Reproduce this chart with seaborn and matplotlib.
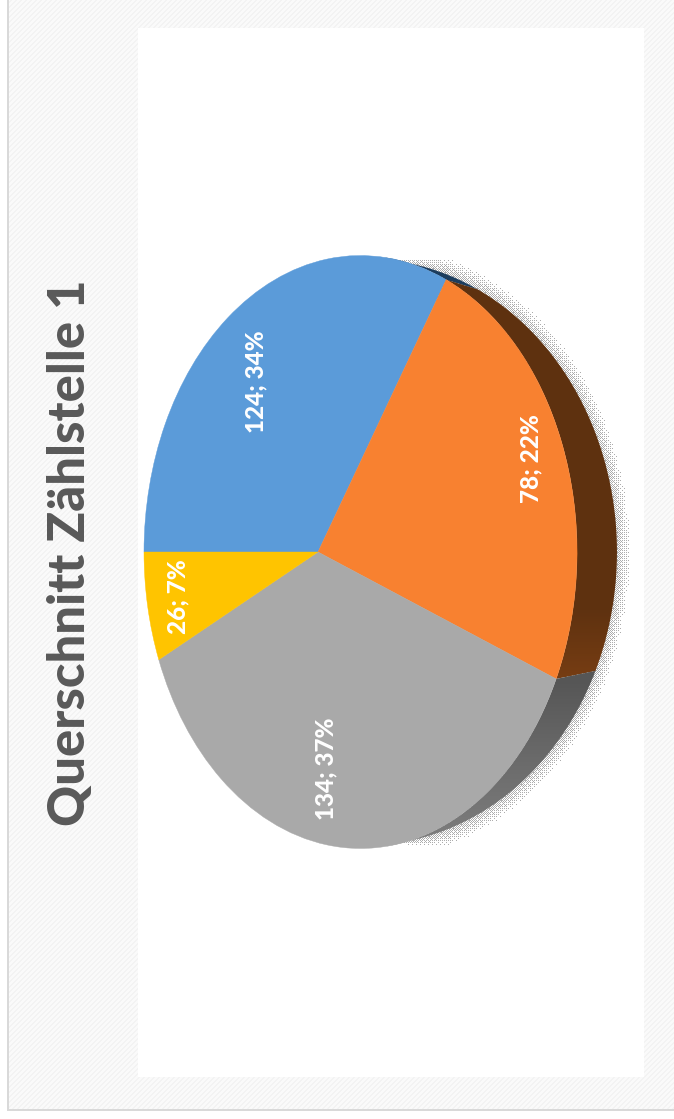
import matplotlib
matplotlib.use("Agg")
import matplotlib.pyplot as plt
from matplotlib.patches import PathPatch, Rectangle
from matplotlib.path import Path
import numpy as np
import seaborn as sns

title = "Querschnitt Zählstelle 1"
counts = [124, 78, 134, 26]
slice_colors = ["#5b9bd9", "#f88130", "#a9a9a9", "#ffc400"]

# side wall shades, with the picture rows they belong to
side_shades = [
    ["#1c3d5e", "#1c3d5e"],
    ["#5e310f", "#5f3210", "#773d13"],
    ["#565656", "#6a6a6a", "#7c7c7c"],
]
side_rows = [(260, 300), (540, 680), (680, 835)]
label_xy = [(256, 382), (531, 459), (326, 769), (178, 597)]

W, H = 674, 1119

sns.set_theme(style="white")
plt.rcParams["font.family"] = ["Lato", "DejaVu Sans"]


# the pie is tilted, so the unit circle goes through a perspective map
def front(u, v):
    k = 1 - 0.1963 * u
    return (318 + 145.73 * u) / k, 552 - 290.7 * v / k


def back(u, v):
    k = 1 - 0.14 * u
    return (332 + 198.6 * u) / k, 552 - 290 * v / k


def arc(a0, a1, func):
    phi = np.radians(180 - np.linspace(a0, a1, 120))
    return func(np.cos(phi), np.sin(phi))


fig = plt.figure(figsize=(W / 100, H / 100), dpi=100)
ax = fig.add_axes([0, 0, 1, 1])

wedges, _ = ax.pie(counts, colors=slice_colors, startangle=180, counterclock=False, frame=True)
ax.set_aspect("auto")

# chart area background, light diagonal stripes
yy, xx = np.mgrid[0:H, 0:W]
stripes = np.where((xx + yy) % 5 < 2, 0.95, 0.98)
ax.imshow(stripes, cmap="gray", vmin=0, vmax=1, extent=(0, W, H, 0), aspect="auto", zorder=0)
ax.add_patch(Rectangle((0, 0), 7, H, fc="white", lw=0, zorder=1))
ax.add_patch(Rectangle((0, 1111), W, 8, fc="white", lw=0, zorder=1))
ax.add_patch(Rectangle((7, 0), 2, 1111, fc="#d9d9d9", lw=0, zorder=1))
ax.add_patch(Rectangle((7, 1109), W, 2, fc="#d9d9d9", lw=0, zorder=1))
ax.add_patch(Rectangle((138, 28), 506, 1049, fc="white", lw=0, zorder=1))

# stippled shadow round the back rim, getting narrower towards the left
rad = np.sqrt(((xx + 0.5 - 367) / 250) ** 2 + ((yy + 0.5 - 552) / 293) ** 2)
dist = (rad - 1) * 270
reach = 15 * np.clip((xx - 395) / 50, 0.05, 1)
density = np.clip(0.6 * (1 - dist / reach), 0, 0.6)
bayer = np.array([[0, 8, 2, 10], [12, 4, 14, 6], [3, 11, 1, 9], [15, 7, 13, 5]]) / 16 + 1 / 32
shadow = np.zeros((H, W, 4))
shadow[..., :3] = 0.68
shadow[..., 3] = (density > bayer[yy % 4, xx % 4]) & (rad > 0.9) & (xx > 395)
ax.imshow(shadow, extent=(0, W, H, 0), aspect="auto", zorder=2, interpolation="bilinear")

# side wall, a vertical gradient clipped to each piece
ends = np.cumsum([0] + counts) / sum(counts) * 360
side_from = 107
side_to = 252
for i, shades in enumerate(side_shades):
    a0 = max(ends[i], side_from)
    a1 = min(ends[i + 1], side_to)
    fx, fy = arc(a0, a1, front)
    bx, by = arc(a0, a1, back)
    outline = PathPatch(Path(np.c_[np.r_[fx, bx[::-1]], np.r_[fy, by[::-1]]]), fc="none", lw=0)
    ax.add_patch(outline)
    r0, r1 = side_rows[i]
    grad = np.clip((yy[:, :1] + 0.5 - r0) / (r1 - r0), 0, 1)
    im = ax.imshow(grad, cmap=sns.blend_palette(shades, as_cmap=True), vmin=0, vmax=1,
                   extent=(0, W, H, 0), aspect="auto", zorder=3)
    im.set_clip_path(outline)

# top surface: take the wedges of the pie and put them through the map
for w in wedges:
    path = w.get_path()
    x, y = front(path.vertices[:, 0], path.vertices[:, 1])
    ax.add_patch(PathPatch(Path(np.c_[x, y], path.codes), fc=w.get_facecolor(), ec=w.get_facecolor(), lw=0.3, zorder=4))
    w.remove()

for n, (lx, ly) in zip(counts, label_xy):
    ax.text(lx, ly, f"{n}; {round(100 * n / sum(counts))}%", color="white", fontsize=17.5, fontweight=900,
            rotation=90, ha="center", va="center", zorder=5)

ax.text(71, 553, title, color="#595959", fontsize=36.5, fontweight=900, rotation=90,
        ha="center", va="center", zorder=5)

ax.set_xlim(0, W)
ax.set_ylim(H, 0)
ax.axis("off")

fig.savefig("out.png", dpi=100)
